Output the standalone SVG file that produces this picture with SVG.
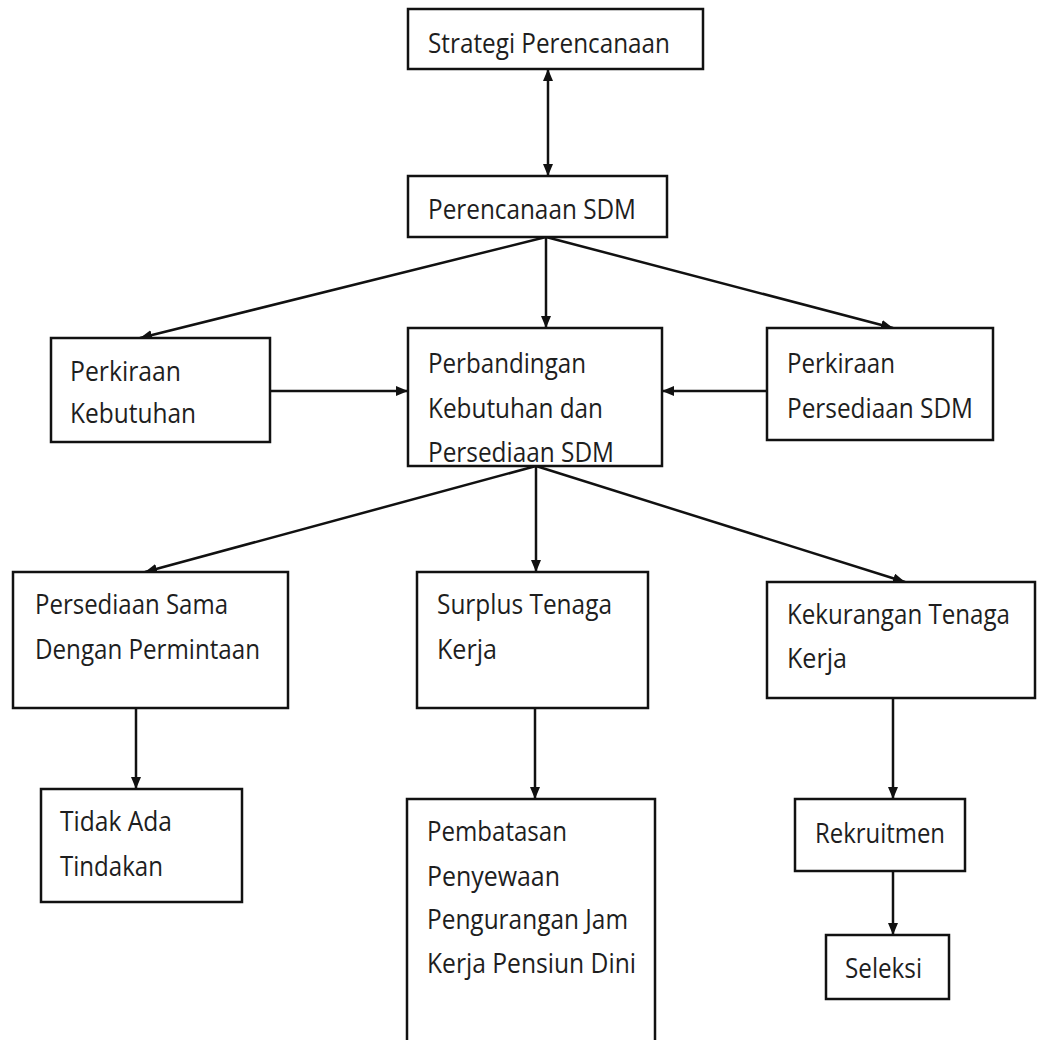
<svg xmlns="http://www.w3.org/2000/svg" width="1037" height="1040" viewBox="0 0 1037 1040">
<style>
.box{fill:#fff;stroke:#111;stroke-width:2.5}
.t{font-family:"Open Sans","Liberation Sans",sans-serif;font-size:27px;fill:#1e1e1e}
.c{stroke:#111;stroke-width:2.5;fill:none;marker-end:url(#ah)}
</style>
<defs>
<marker id="ah" viewBox="0 0 12 10" refX="12" refY="5" markerWidth="12" markerHeight="10" markerUnits="userSpaceOnUse" orient="auto-start-reverse">
<path d="M0,0 L12,5 L0,10 z" fill="#111"/>
</marker>
</defs>
<rect width="1037" height="1040" fill="#fff"/>
<g id="connectors">
<line class="c" x1="548" y1="69" x2="548" y2="176" marker-start="url(#ah)"/>
<line class="c" x1="546" y1="237" x2="140" y2="338"/>
<line class="c" x1="546" y1="237" x2="546" y2="328"/>
<line class="c" x1="546" y1="237" x2="893" y2="328"/>
<line class="c" x1="270" y1="391" x2="408" y2="391"/>
<line class="c" x1="767" y1="391" x2="662" y2="391"/>
<line class="c" x1="536" y1="466" x2="145" y2="572"/>
<line class="c" x1="536" y1="466" x2="536" y2="572"/>
<line class="c" x1="536" y1="466" x2="905" y2="582"/>
<line class="c" x1="136" y1="708" x2="136" y2="789"/>
<line class="c" x1="535" y1="708" x2="535" y2="799"/>
<line class="c" x1="893" y1="698" x2="893" y2="799"/>
<line class="c" x1="893" y1="871" x2="893" y2="935"/>
</g>
<g id="strategi">
<rect class="box" x="408" y="9" width="295" height="60"/>
<text class="t" x="428" y="53" textLength="242" lengthAdjust="spacingAndGlyphs">Strategi Perencanaan</text>
</g>
<g id="perencanaan-sdm">
<rect class="box" x="408" y="176" width="259" height="61"/>
<text class="t" x="428" y="219" textLength="208" lengthAdjust="spacingAndGlyphs">Perencanaan SDM</text>
</g>
<g id="perkiraan-kebutuhan">
<rect class="box" x="51" y="338" width="219" height="104"/>
<text class="t" x="70" y="381" textLength="111" lengthAdjust="spacingAndGlyphs">Perkiraan</text>
<text class="t" x="70" y="423" textLength="126" lengthAdjust="spacingAndGlyphs">Kebutuhan</text>
</g>
<g id="perbandingan">
<rect class="box" x="408" y="328" width="254" height="138"/>
<text class="t" x="428" y="373" textLength="158" lengthAdjust="spacingAndGlyphs">Perbandingan</text>
<text class="t" x="428" y="418" textLength="175" lengthAdjust="spacingAndGlyphs">Kebutuhan dan</text>
<text class="t" x="428" y="462" textLength="186" lengthAdjust="spacingAndGlyphs">Persediaan SDM</text>
</g>
<g id="perkiraan-persediaan">
<rect class="box" x="767" y="328" width="226" height="112"/>
<text class="t" x="787" y="373" textLength="108" lengthAdjust="spacingAndGlyphs">Perkiraan</text>
<text class="t" x="787" y="418" textLength="186" lengthAdjust="spacingAndGlyphs">Persediaan SDM</text>
</g>
<g id="persediaan-sama">
<rect class="box" x="13" y="572" width="275" height="136"/>
<text class="t" x="35" y="614" textLength="193" lengthAdjust="spacingAndGlyphs">Persediaan Sama</text>
<text class="t" x="35" y="659" textLength="225" lengthAdjust="spacingAndGlyphs">Dengan Permintaan</text>
</g>
<g id="surplus">
<rect class="box" x="417" y="572" width="231" height="136"/>
<text class="t" x="437" y="614" textLength="175" lengthAdjust="spacingAndGlyphs">Surplus Tenaga</text>
<text class="t" x="437" y="659" textLength="60" lengthAdjust="spacingAndGlyphs">Kerja</text>
</g>
<g id="kekurangan">
<rect class="box" x="767" y="582" width="268" height="116"/>
<text class="t" x="787" y="624" textLength="223" lengthAdjust="spacingAndGlyphs">Kekurangan Tenaga</text>
<text class="t" x="787" y="668" textLength="60" lengthAdjust="spacingAndGlyphs">Kerja</text>
</g>
<g id="tidak-ada">
<rect class="box" x="41" y="789" width="201" height="113"/>
<text class="t" x="60" y="831" textLength="112" lengthAdjust="spacingAndGlyphs">Tidak Ada</text>
<text class="t" x="60" y="876" textLength="103" lengthAdjust="spacingAndGlyphs">Tindakan</text>
</g>
<g id="pembatasan">
<rect class="box" x="407" y="799" width="248" height="260"/>
<text class="t" x="427" y="841" textLength="140" lengthAdjust="spacingAndGlyphs">Pembatasan</text>
<text class="t" x="427" y="886" textLength="133" lengthAdjust="spacingAndGlyphs">Penyewaan</text>
<text class="t" x="427" y="929" textLength="201" lengthAdjust="spacingAndGlyphs">Pengurangan Jam</text>
<text class="t" x="427" y="973" textLength="209" lengthAdjust="spacingAndGlyphs">Kerja Pensiun Dini</text>
</g>
<g id="rekruitmen">
<rect class="box" x="795" y="799" width="170" height="72"/>
<text class="t" x="815" y="843" textLength="130" lengthAdjust="spacingAndGlyphs">Rekruitmen</text>
</g>
<g id="seleksi">
<rect class="box" x="826" y="935" width="123" height="64"/>
<text class="t" x="845" y="978" textLength="77" lengthAdjust="spacingAndGlyphs">Seleksi</text>
</g>
</svg>
